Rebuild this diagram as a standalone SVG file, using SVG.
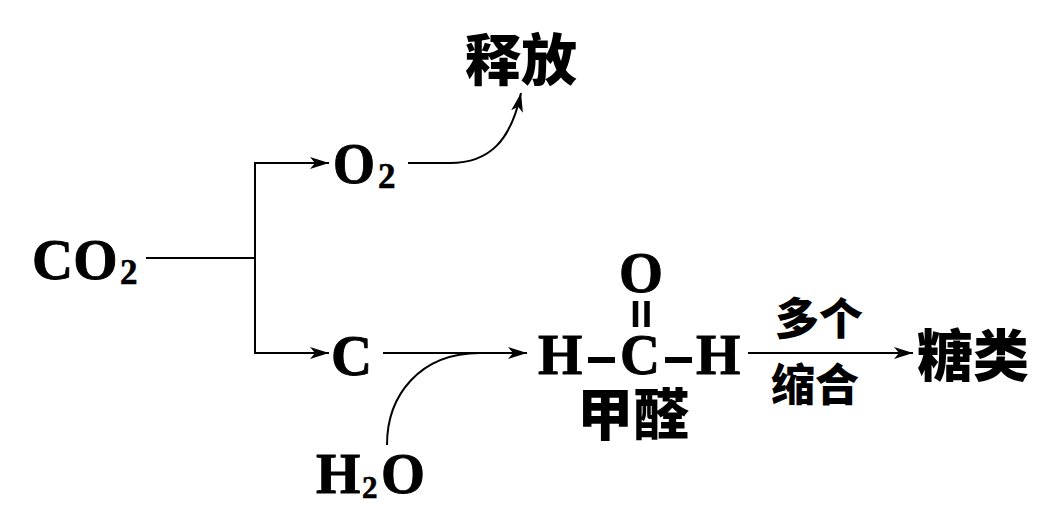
<svg xmlns="http://www.w3.org/2000/svg" width="1048" height="528" viewBox="0 0 1048 528">
<style>
.l{fill:none;stroke:#000;stroke-width:2}
.a{fill:none;stroke:#000;stroke-width:2;marker-end:url(#h)}
text{fill:#000;font-family:"Liberation Serif","Noto Sans CJK SC",serif;font-weight:bold}
.f{font-size:57px;stroke:#000;stroke-width:.9}
.s{font-size:35px;stroke:#000;stroke-width:.6}
.c{font-family:"Noto Sans CJK SC","Liberation Sans",sans-serif;font-weight:900}
.b{font-size:56px}
.m{font-size:44px}
</style>
<defs><marker id="h" markerWidth="20" markerHeight="14" refX="19" refY="7" orient="auto" markerUnits="userSpaceOnUse"><path d="M0 1 L19 7 L0 13 L5 7 Z" fill="#000"/></marker></defs>
<g id="connectors">
<path class="l" d="M146 258H255"/>
<path class="a" d="M255 258V163H329"/>
<path class="a" d="M255 258V353H329"/>
<path class="a" d="M408 163H450C490 163 511 140 521 93"/>
<path class="a" d="M383 353H527"/>
<path class="l" d="M387 445C387 395 420 353 480 353"/>
<path class="a" d="M748 353H913"/>
</g>
<g id="co2"><text class="f" x="32" y="279">CO</text><text class="s" x="120" y="284">2</text></g>
<g id="o2"><text class="f" x="333" y="183" textLength="42" lengthAdjust="spacingAndGlyphs">O</text><text class="s" x="378" y="188">2</text></g>
<g id="release"><text class="c b" x="465" y="80">释放</text></g>
<g id="c"><text class="f" x="331" y="375">C</text></g>
<g id="h2o"><text class="f" x="316" y="493">H</text><text class="s" x="362" y="498" style="font-size:31px">2</text><text class="f" x="381" y="493" textLength="44" lengthAdjust="spacingAndGlyphs">O</text></g>
<g id="formaldehyde">
<text class="f" x="619" y="292" textLength="44" lengthAdjust="spacingAndGlyphs">O</text>
<path d="M635.500 301V327M647 301V327" fill="none" stroke="#000" stroke-width="5.500"/>
<text class="f" x="538" y="374">H</text><rect x="588" y="357" width="27" height="6"/>
<text class="f" x="620" y="374" textLength="40" lengthAdjust="spacingAndGlyphs">C</text><rect x="665" y="357" width="27" height="6"/>
<text class="f" x="696" y="374">H</text>
<text class="c b" x="577" y="435">甲醛</text>
</g>
<g id="label-top"><text class="c m" x="775" y="335">多个</text></g>
<g id="label-bottom"><text class="c m" x="771" y="401">缩合</text></g>
<g id="sugar"><text class="c b" x="917" y="376">糖类</text></g>
</svg>
